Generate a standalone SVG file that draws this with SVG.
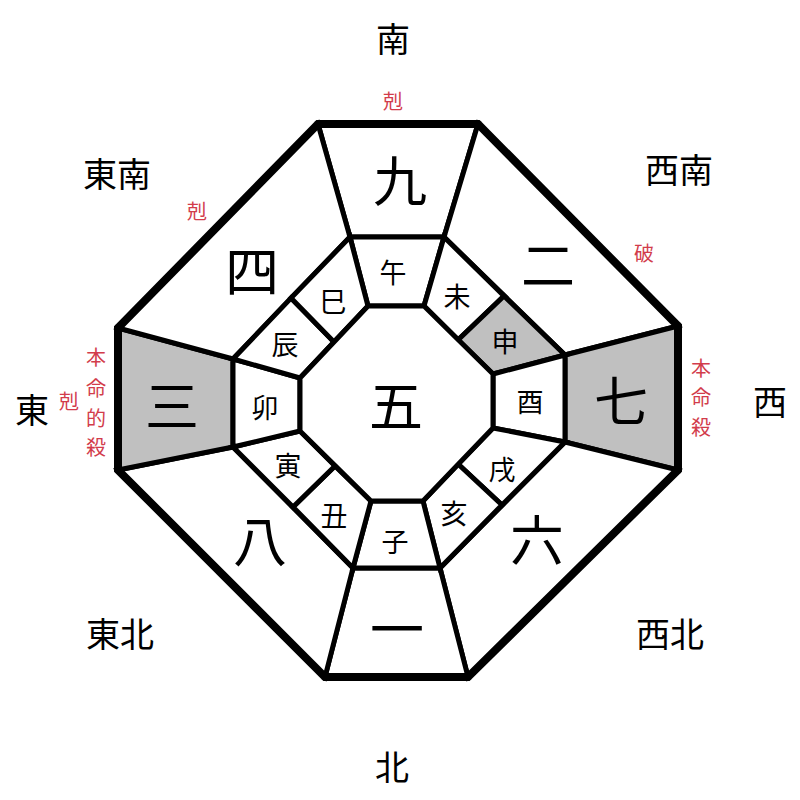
<svg xmlns="http://www.w3.org/2000/svg" width="800" height="800" viewBox="0 0 800 800">
<style>
.cell{fill:#ffffff;stroke:#000;stroke-width:5;stroke-linejoin:miter}
.gray{fill:#c0c0c0}
.outer{fill:none;stroke:#000;stroke-width:8;stroke-linejoin:miter}
text{font-family:"Noto Sans CJK JP","Noto Sans CJK SC",sans-serif;text-anchor:middle;dominant-baseline:central;fill:#000}
.big{font-size:54px}
.sm{font-size:27px}
.dir{font-size:34px}
.red{font-size:20px;fill:#d23c4b}
</style>
<rect width="800" height="800" fill="#fff"/>
<g id="outer-ring">
<g id="n9"><polygon class="cell" points="318,124 478,124 444,237 350,237"/><text class="big" x="400" y="178">九</text></g>
<g id="n2"><polygon class="cell" points="478,124 678,326 565,355 444,237"/><text class="big" x="548" y="262">二</text></g>
<g id="n7"><polygon class="cell gray" points="678,326 678,470 565,442 565,355"/><text class="big" x="621" y="398">七</text></g>
<g id="n6"><polygon class="cell" points="678,470 468,677 440,568 565,442"/><text class="big" x="537" y="537">六</text></g>
<g id="n1"><polygon class="cell" points="468,677 325,677 353,568 440,568"/><text class="big" x="397" y="626">一</text></g>
<g id="n8"><polygon class="cell" points="325,677 118,470 233,447 353,568"/><text class="big" x="260" y="538">八</text></g>
<g id="n3"><polygon class="cell gray" points="118,470 118,328 233,359 233,447"/><text class="big" x="172" y="403">三</text></g>
<g id="n4"><polygon class="cell" points="118,328 318,124 350,237 233,359"/><text class="big" x="252" y="268">四</text></g>
</g>
<g id="middle-ring">
<g id="wu"><polygon class="cell" points="350,237 444,237 424,306 368,306"/><text class="sm" x="393" y="271">午</text></g>
<g id="wei"><polygon class="cell" points="444,237 504,296 458,340 424,306"/><text class="sm" x="457" y="295">未</text></g>
<g id="shen"><polygon class="cell gray" points="504,296 565,355 493,374 458,340"/><text class="sm" x="505" y="340">申</text></g>
<g id="you"><polygon class="cell" points="565,355 565,442 493,428 493,374"/><text class="sm" x="530" y="400">酉</text></g>
<g id="xu"><polygon class="cell" points="565,442 502,505 458,464 493,428"/><text class="sm" x="502" y="468">戌</text></g>
<g id="hai"><polygon class="cell" points="502,505 440,568 423,501 458,464"/><text class="sm" x="454" y="512">亥</text></g>
<g id="zi"><polygon class="cell" points="440,568 353,568 371,501 423,501"/><text class="sm" x="395" y="540">子</text></g>
<g id="chou"><polygon class="cell" points="353,568 293,507 335,466 371,501"/><text class="sm" x="334" y="514">丑</text></g>
<g id="yin"><polygon class="cell" points="293,507 233,447 300,431 335,466"/><text class="sm" x="288" y="464">寅</text></g>
<g id="mao"><polygon class="cell" points="233,447 233,359 300,378 300,431"/><text class="sm" x="265" y="406">卯</text></g>
<g id="chen"><polygon class="cell" points="233,359 291,298 334,342 300,378"/><text class="sm" x="285" y="343">辰</text></g>
<g id="si"><polygon class="cell" points="291,298 350,237 368,306 334,342"/><text class="sm" x="333" y="300">巳</text></g>
</g>
<g id="center">
<polygon class="cell" points="368,306 424,306 493,374 493,428 423,501 371,501 300,431 300,378"/>
<text class="big" x="396" y="403">五</text>
</g>
<polygon class="outer" points="318,124 478,124 678,326 678,470 468,677 325,677 118,470 118,328"/>
<g id="directions">
<text class="dir" x="393" y="37">南</text>
<text class="dir" x="117" y="172">東南</text>
<text class="dir" x="679" y="168">西南</text>
<text class="dir" x="32" y="408">東</text>
<text class="dir" x="770" y="400">西</text>
<text class="dir" x="120" y="632">東北</text>
<text class="dir" x="670" y="632">西北</text>
<text class="dir" x="392" y="765">北</text>
</g>
<g id="notes">
<text class="red" x="393" y="100">剋</text>
<text class="red" x="197" y="210">剋</text>
<text class="red" x="644" y="252">破</text>
<text class="red" x="69" y="400">剋</text>
<text class="red" x="96" y="356">本</text>
<text class="red" x="96" y="387">命</text>
<text class="red" x="96" y="417">的</text>
<text class="red" x="96" y="446">殺</text>
<text class="red" x="701" y="367">本</text>
<text class="red" x="701" y="396">命</text>
<text class="red" x="701" y="426">殺</text>
</g>
</svg>
